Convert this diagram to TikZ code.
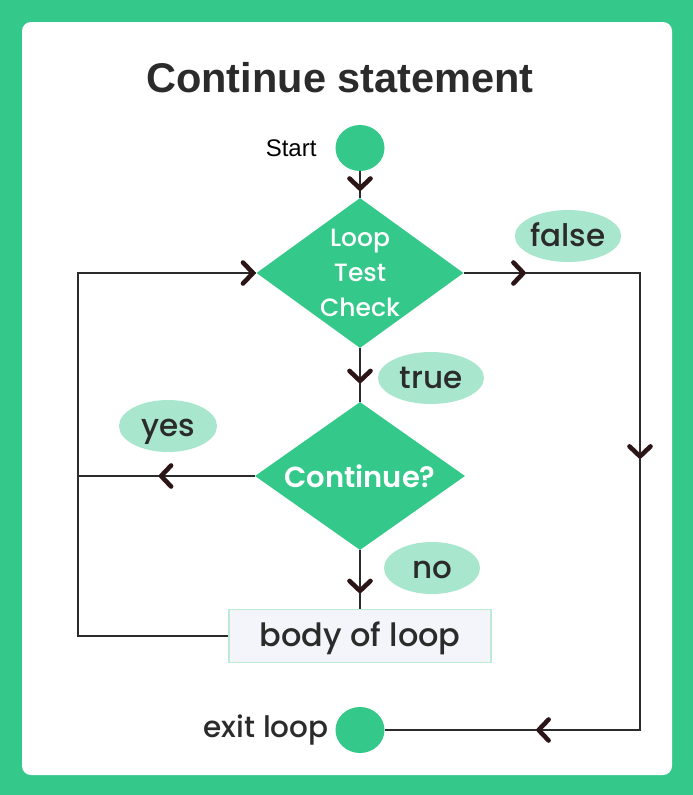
\documentclass[tikz,border=0pt]{standalone}
\usepackage{fontspec}
\setmainfont{Poppins}[UprightFont=* Medium,BoldFont=* SemiBold]
\newfontfamily\arialfont{Liberation Sans}
\usetikzlibrary{shapes.geometric,arrows.meta,decorations.markings}
\definecolor{framegreen}{HTML}{34C98A}
\definecolor{labelmint}{HTML}{A8E7CE}
\definecolor{bodyfill}{HTML}{F4F5FB}
\definecolor{bodyline}{HTML}{BCEAD5}
\definecolor{inkdark}{HTML}{2B2B2B}
\definecolor{chevdark}{HTML}{2C1517}

\begin{document}
\begin{tikzpicture}[x=1pt,y=-1pt,
  terminal/.style={ellipse,fill=framegreen,minimum width=49pt,minimum height=46pt,inner sep=0pt},
  decision/.style={diamond,fill=framegreen,text=white,inner sep=0pt,align=center},
  answer/.style={ellipse,fill=labelmint,text=inkdark,inner sep=0pt,text height=25pt,text depth=4pt,
                 font=\fontsize{31}{34}\selectfont},
  flow/.style={draw=inkdark,line width=2.5pt},
  chevtip/.tip={Straight Barb[length=10pt,width=21pt,line width=4.6pt,round,color=chevdark]},
  chevat/.style={postaction={decorate,decoration={markings,mark=at position #1 with {\arrow{chevtip}}}}}]
  % frame
  \fill[framegreen] (0,0) rectangle (693,795);
  \fill[white,rounded corners=9pt] (22,22) rectangle (672,775);
  \node[font=\arialfont\bfseries\fontsize{41.5}{48}\selectfont,text=inkdark] (title) at (340,78) {Continue statement};

  % start and end points
  \node[terminal] (start) at (360,148) {};
  \node[font=\arialfont\fontsize{24}{28}\selectfont,anchor=east] (startlbl) at (320,148) {Start};
  \node[terminal] (exit) at (360,730) {};
  \node[font=\fontsize{29.5}{32}\selectfont,text=inkdark,anchor=east] (exitlbl) at (332,730) {exit loop};

  % decisions and body
  \node[decision,minimum width=207pt,minimum height=150pt,aspect=1.38,
        font=\fontsize{25}{35}\selectfont] (loop) at (360,273) {Loop\\Test\\Check};
  \node[decision,minimum width=210pt,minimum height=148pt,aspect=1.42,
        font=\bfseries\fontsize{29}{32}\selectfont] (cont) at (360,476) {Continue?};
  \node[draw=bodyline,fill=bodyfill,line width=1.2pt,minimum width=262pt,minimum height=53pt,
        text height=24pt,text depth=4pt,text=inkdark,font=\fontsize{32}{34}\selectfont] (body) at (360,636) {body of loop};

  % answer labels
  \node[answer,minimum width=104pt,minimum height=52pt] (false) at (568,236) {false};
  \node[answer,minimum width=106pt,minimum height=52pt] (true) at (431,378) {true};
  \node[answer,minimum width=98pt,minimum height=52pt] (yes) at (168,426) {yes};
  \node[answer,minimum width=96pt,minimum height=52pt] (no) at (432,568) {no};

  % corners of the loops
  \coordinate (rtop) at (640,273);
  \coordinate (rbot) at (640,730);
  \coordinate (ltop) at (78,273);
  \coordinate (ljoin) at (78,476);
  \coordinate (lbot) at (78,636);

  % connectors
  \draw[flow,chevat=-7pt] (start) -- (loop);
  \draw[flow,chevat=35pt] (loop) -- (cont);
  \draw[flow,chevat=43pt] (cont) -- (body);
  \draw[flow,chevat=96pt] (cont.west) -- (ljoin);
  \draw[flow,chevat=-1pt] (body.west) -- (lbot) -- (ltop) -- (loop.west);
  \draw[flow,chevat=62pt,chevat=362pt,chevat=737pt] (loop.east) -- (rtop) -- (rbot) -- (exit.east);
\end{tikzpicture}
\end{document}
